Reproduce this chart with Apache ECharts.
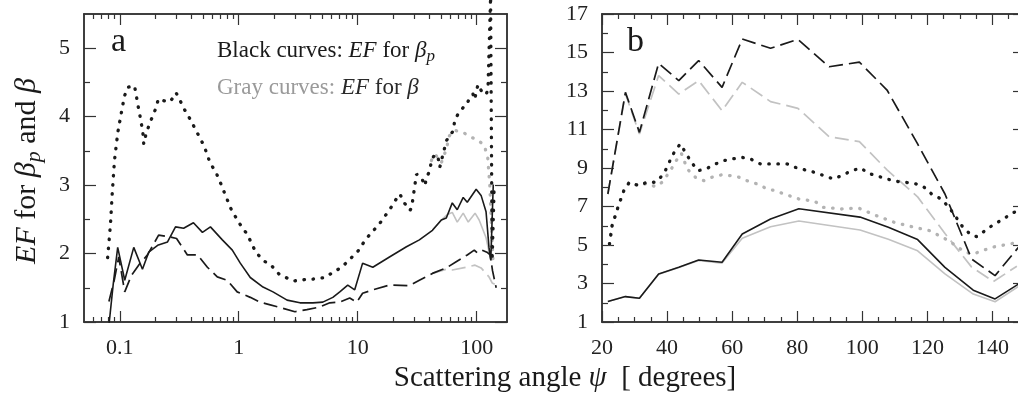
<!DOCTYPE html>
<html><head><meta charset="utf-8">
<script src="https://cdn.jsdelivr.net/npm/echarts@6/dist/echarts.min.js"></script>
<style>html,body{margin:0;padding:0;background:#fff}#c{width:1018px;height:402px}</style>
</head><body><div id="c"></div>
<script>
// ---------- tick values ----------
const aMajorX = [0.1, 1, 10, 100];
const aMinorX = [0.06,0.07,0.08,0.09,0.2,0.3,0.4,0.5,0.6,0.7,0.8,0.9,2,3,4,5,6,7,8,9,20,30,40,50,60,70,80,90];
const aMajorY = [1, 2, 3, 4, 5];
const aMinorY = [1.5, 2.5, 3.5, 4.5];
const bMajorX = [20, 40, 60, 80, 100, 120, 140];
const bMinorX = [25,30,35,45,50,55,65,70,75,85,90,95,105,110,115,125,130,135,145];
const bMajorY = [1, 3, 5, 7, 9, 11, 13, 15, 17];
const bMinorY = [2, 4, 6, 8, 10, 12, 14, 16];

// ---------- panel a data [angle, EF] ----------
const aBlackDot = [[0.079,1.94],[0.0835,2.43],[0.0863,2.87],[0.0902,3.36],[0.0962,3.77],[0.1026,4.04],[0.1094,4.30],[0.1167,4.43],[0.1327,4.45],[0.1371,4.33],[0.1415,4.18],[0.1462,4.06],[0.1509,3.92],[0.1558,3.79],[0.159,3.60],[0.1663,3.75],[0.1773,3.89],[0.1891,4.01],[0.2016,4.13],[0.211,4.26],[0.237,4.23],[0.266,4.22],[0.297,4.35],[0.3225,4.23],[0.348,4.11],[0.391,3.96],[0.465,3.71],[0.512,3.57],[0.575,3.32],[0.642,3.19],[0.707,3.02],[0.778,2.84],[0.857,2.66],[0.944,2.53],[1.04,2.41],[1.18,2.28],[1.39,2.02],[1.63,1.89],[1.85,1.84],[2.18,1.70],[2.56,1.64],[2.91,1.60],[3.62,1.62],[4.39,1.63],[5.32,1.65],[6.25,1.73],[7.34,1.80],[8.63,1.92],[10.1,2.04],[11.5,2.19],[13.1,2.31],[14.9,2.41],[17.0,2.55],[18.7,2.65],[20.6,2.77],[22.6,2.87],[24.9,2.73],[27.5,2.63],[28.4,2.67],[31.2,3.16],[34.4,3.11],[36.7,2.99],[37.9,3.11],[40.4,3.21],[41.7,3.36],[44.5,3.45],[47.4,3.40],[49.0,3.26],[50.6,3.36],[53.9,3.55],[55.7,3.65],[63.4,3.79],[65.4,3.94],[69.8,4.04],[76.8,4.13],[81.9,4.16],[87.4,4.28],[93.2,4.33],[96.2,4.25],[102.6,4.47],[109.4,4.38],[116.7,4.38],[120.5,4.33],[124.5,4.40],[131,5.75],[135,1.9],[140,2.9]];
const aGrayDot = [[41.7,3.36],[44.5,3.45],[47.4,3.40],[50.6,3.33],[55.7,3.53],[59,3.72],[65.4,3.80],[76.8,3.77],[92.6,3.69],[102,3.66],[116,3.58],[124,3.40],[129,3.0],[134,2.3],[138,1.8]];
const aBlackSolid = [[0.081,0.95],[0.088,1.55],[0.096,2.09],[0.110,1.61],[0.131,2.09],[0.155,1.77],[0.175,2.02],[0.208,2.12],[0.252,2.17],[0.294,2.39],[0.344,2.37],[0.416,2.45],[0.495,2.31],[0.578,2.39],[0.728,2.20],[0.883,2.05],[1.03,1.86],[1.25,1.65],[1.60,1.51],[1.94,1.44],[2.55,1.32],[3.27,1.28],[4.20,1.28],[5.09,1.29],[6.18,1.36],[7.07,1.44],[8.25,1.54],[9.44,1.47],[11.0,1.86],[13.4,1.80],[18.5,1.95],[25.7,2.10],[33.0,2.20],[42.5,2.34],[50.5,2.49],[55.6,2.52],[62.4,2.74],[68.7,2.64],[77.1,2.82],[83.4,2.75],[99.1,2.94],[109,2.85],[120,2.61],[127,2.09],[131.5,1.9],[138,3.01]];
const aGraySolid = [[42.5,2.34],[50.5,2.49],[56.6,2.57],[62.4,2.60],[68.7,2.46],[77.1,2.59],[85,2.46],[97,2.59],[105,2.49],[120,2.23],[128,2.0],[134,1.9]];
const aBlackDash = [[0.081,1.30],[0.090,1.62],[0.098,1.95],[0.110,1.44],[0.125,1.68],[0.147,1.85],[0.171,1.98],[0.212,2.27],[0.267,2.24],[0.30,2.22],[0.336,2.09],[0.37,1.98],[0.45,1.98],[0.545,1.80],[0.66,1.66],[0.80,1.61],[0.97,1.44],[1.25,1.36],[1.51,1.29],[1.84,1.25],[2.35,1.20],[2.97,1.15],[3.74,1.18],[4.81,1.22],[5.83,1.28],[7.07,1.29],[8.57,1.35],[9.81,1.29],[11.0,1.42],[13.4,1.47],[18.5,1.54],[27.2,1.53],[33,1.61],[42.5,1.71],[55.6,1.79],[67.3,1.88],[83.4,1.98],[95.5,2.05],[101,2.01],[111,2.05],[122,2.02],[130,1.98],[136,1.75],[146,1.5]];
const aGrayDash = [[42.5,1.71],[55.6,1.77],[62.4,1.76],[81.7,1.80],[97,1.83],[109,1.79],[127,1.66],[135,1.57],[142,1.55]];

// ---------- panel b data [angle, EF] ----------
const bBlackDash = [[21.8,7.65],[27.2,12.93],[31.5,10.85],[37.4,14.44],[43.6,13.54],[49.7,14.58],[56.9,13.19],[63.1,15.70],[71.8,15.22],[80.2,15.68],[89.8,14.26],[99.1,14.50],[107.6,13.05],[117,10.25],[125.4,7.65],[133.6,4.27],[140.8,3.41],[148,4.88]];
const bGrayDash = [[21.8,7.65],[27.2,12.85],[31.5,10.77],[37.4,13.80],[43.6,12.84],[49.7,13.54],[56.9,11.98],[63.1,13.45],[71.8,12.45],[80.2,12.10],[89.8,10.63],[99.1,10.37],[107.6,8.90],[117,7.5],[125.4,5.6],[133.6,3.85],[140.3,3.1],[147.5,3.9]];
const bBlackDot = [[22.3,5.05],[23.1,6.0],[24.9,6.96],[26.7,7.82],[28.4,8.26],[31.3,8.08],[33.8,8.26],[36.4,8.26],[38.5,8.6],[40.0,9.03],[41.3,9.55],[42.8,9.99],[44.1,10.25],[45.8,9.76],[47.5,9.29],[49.5,8.86],[52.0,8.95],[54.9,9.21],[57.4,9.38],[60.0,9.47],[63.1,9.55],[65.6,9.47],[68.7,9.21],[76.9,9.21],[79.5,9.03],[85.4,8.77],[91.1,8.43],[93.6,8.6],[96.7,8.86],[99.6,9.0],[101.8,8.72],[104.4,8.60],[107.5,8.43],[110.3,8.31],[116.0,8.20],[118.8,8.03],[121.3,7.65],[124.2,7.39],[126.5,6.99],[128.5,6.52],[130.6,6.0],[133.1,5.57],[135.2,5.43],[137.7,5.74],[140.3,6.06],[143.4,6.35],[145.9,6.65],[148,6.78]];
const bGrayDot = [[22.3,5.05],[23.1,6.0],[24.9,6.96],[26.7,7.82],[28.4,8.26],[31.3,8.08],[33.8,8.2],[36.4,8.03],[38.5,8.26],[41.0,8.86],[42.8,9.38],[44.4,9.76],[46.2,8.95],[48.7,8.52],[51.3,8.34],[53.8,8.52],[56.9,8.65],[59.5,8.60],[62.1,8.52],[64.6,8.34],[67.7,8.17],[70.8,7.91],[73.3,7.82],[75.9,7.65],[78.5,7.51],[80.5,7.39],[85.4,7.27],[88.0,6.96],[93.6,6.87],[98.8,6.92],[104.4,6.52],[109.8,6.18],[115.2,5.95],[120.8,5.74],[126.5,5.23],[131.6,4.62],[134.1,4.53],[139.8,4.88],[148,5.14]];
const bBlackSolid = [[21.8,2.07],[27.2,2.32],[31.5,2.23],[37.4,3.49],[43.6,3.84],[49.7,4.22],[56.9,4.10],[63.1,5.57],[71.8,6.35],[80.5,6.88],[99.3,6.45],[108,5.92],[117,5.28],[125.4,3.84],[134.1,2.65],[140.8,2.20],[148,2.97]];
const bGraySolid = [[21.8,2.07],[27.2,2.32],[31.5,2.23],[37.4,3.48],[43.6,3.83],[49.7,4.2],[56.9,4.06],[63.1,5.35],[71.8,5.95],[80.5,6.25],[99.3,5.78],[108,5.3],[117,4.7],[125.4,3.5],[134.1,2.45],[140.8,2.05],[148,2.85]];

const FONT = '"Liberation Serif","Times New Roman",serif';
const AXC = '#333';
const BLACK = '#1a1a1a', GRAY = '#c2c2c2', GRAYDOT = '#b3b3b3';

function fmt(v){ return String(+(+v).toPrecision(3)); }
function ax(grid, type, pos, min, max, ticks, len, labels, margin) {
  const o = {
    type: type, gridIndex: grid, position: pos, min: min, max: max,
    axisLine: { show: true, onZero: false, lineStyle: { color: AXC, width: 1.5 } },
    axisTick: { show: true, inside: true, length: len, customValues: ticks, lineStyle: { color: AXC, width: 1.2 } },
    axisLabel: labels ? { show: true, customValues: labels, fontFamily: FONT, fontSize: 22, color: '#222', margin: margin, formatter: fmt } : { show: false },
    splitLine: { show: false }, minorTick: { show: false }, minorSplitLine: { show: false },
    axisPointer: { show: false }
  };
  if (type === 'log') o.logBase = 10;
  return o;
}
const xAxes = [
  ax(0,'log','bottom',0.05,180,aMajorX,11,aMajorX,15),
  ax(0,'log','top',0.05,180,aMajorX,11,null),
  ax(0,'log','bottom',0.05,180,aMinorX,5,null),
  ax(0,'log','top',0.05,180,aMinorX,5,null),
  ax(1,'value','bottom',20,150,bMajorX,11,bMajorX,15),
  ax(1,'value','top',20,150,bMajorX,11,null),
  ax(1,'value','bottom',20,150,bMinorX,5,null),
  ax(1,'value','top',20,150,bMinorX,5,null)
];
const yAxes = [
  ax(0,'value','left',1,5.5,aMajorY,12,aMajorY,14),
  ax(0,'value','right',1,5.5,aMajorY,12,null),
  ax(0,'value','left',1,5.5,aMinorY,6,null),
  ax(0,'value','right',1,5.5,aMinorY,6,null),
  ax(1,'value','left',1,17,bMajorY,12,bMajorY,14),
  ax(1,'value','right',1,17,bMajorY,12,null),
  ax(1,'value','left',1,17,bMinorY,6,null),
  ax(1,'value','right',1,17,bMinorY,6,null)
];

function ser(data, panel, color, kind, z, clip) {
  const ls = { color: color };
  if (kind === 'solid') { ls.width = 1.6; ls.type = 'solid'; }
  else if (kind === 'dash') { ls.width = 1.7; ls.type = [14, 6]; }
  else { ls.width = 3.3; ls.type = [0.5, 8.6]; ls.cap = 'round'; }
  return { type: 'line', data: data, xAxisIndex: panel === 0 ? 0 : 4, yAxisIndex: panel === 0 ? 0 : 4,
    showSymbol: false, symbol: 'none', lineStyle: ls, z: z, clip: clip !== false, silent: true };
}

const series = [
  ser(aGrayDot,0,GRAYDOT,'dot',2), ser(aGraySolid,0,GRAY,'solid',2), ser(aGrayDash,0,GRAY,'dash',2),
  ser(aBlackDot,0,BLACK,'dot',3,false), ser(aBlackSolid,0,BLACK,'solid',3), ser(aBlackDash,0,BLACK,'dash',3),
  ser(bGrayDash,1,GRAY,'dash',2), ser(bGrayDot,1,GRAYDOT,'dot',2), ser(bGraySolid,1,GRAY,'solid',2),
  ser(bBlackDash,1,BLACK,'dash',3), ser(bBlackDot,1,BLACK,'dot',3), ser(bBlackSolid,1,BLACK,'solid',3)
];

const rich23 = {
  i: { fontStyle: 'italic', fontSize: 23, fontFamily: FONT, lineHeight: 29 },
  s: { fontStyle: 'italic', fontSize: 17, fontFamily: FONT, lineHeight: 19, verticalAlign: 'bottom' },
  g: { fontSize: 23, fontFamily: FONT, lineHeight: 29, fill: '#9a9a9a' }
};
const rich29 = {
  i: { fontStyle: 'italic', fontSize: 29, fontFamily: FONT, lineHeight: 35 },
  s: { fontStyle: 'italic', fontSize: 21, fontFamily: FONT, lineHeight: 23, verticalAlign: 'bottom' }
};
const rich30 = {
  i: { fontStyle: 'italic', fontSize: 30, fontFamily: FONT, lineHeight: 36 },
  s: { fontStyle: 'italic', fontSize: 22, fontFamily: FONT, lineHeight: 24, verticalAlign: 'bottom' }
};
function txt(x, y, text, size, opts) {
  const st = Object.assign({ text: text, fontSize: size, fontFamily: FONT, fill: '#1a1a1a',
    align: 'left', textAlign: 'left', verticalAlign: 'middle', textVerticalAlign: 'middle', lineHeight: size + 6 }, opts || {});
  return { type: 'text', x: x, y: y, silent: true, z: 10, style: st };
}

const chart = echarts.init(document.getElementById('c'), null, { renderer: 'canvas' });
chart.setOption({
  animation: false,
  backgroundColor: '#fff',
  grid: [
    { left: 84, top: 14, width: 423, height: 308, outerBoundsMode: 'none', containLabel: false },
    { left: 602, top: 14, width: 423, height: 308, outerBoundsMode: 'none', containLabel: false }
  ],
  xAxis: xAxes,
  yAxis: yAxes,
  series: series,
  graphic: [
    txt(111, 42, 'a', 34),
    txt(627, 42, 'b', 34),
    txt(217, 51, 'Black curves: {i|EF} for {i|β}{s|p}', 23, { rich: rich23 }),
    txt(217, 88, '{g|Gray curves:} {i|EF} for {i|β}', 23, { rich: rich23, fill: '#2a2a2a' }),
    txt(565, 378, 'Scattering angle {i|ψ}  [ degrees]', 29, { rich: rich29, align: 'center', textAlign: 'center' }),
    Object.assign(txt(27, 171, '{i|EF} for {i|β}{s|p} and {i|β}', 30, { rich: rich30, align: 'center', textAlign: 'center' }), { rotation: Math.PI / 2 })
  ]
});
</script>
</body></html>
